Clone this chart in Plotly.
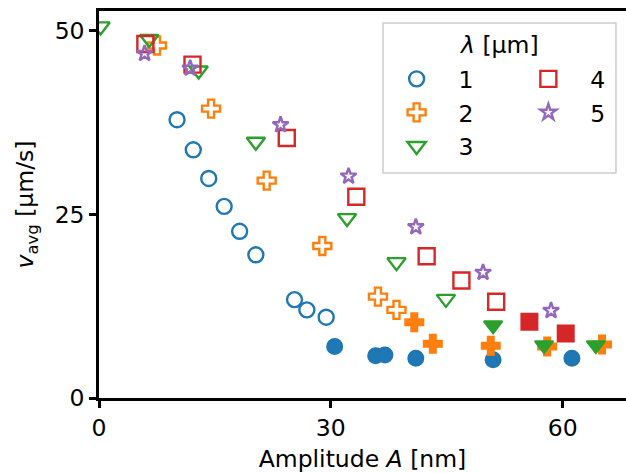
import plotly.graph_objects as go

# ---- data ----
# lambda = 1 um (blue circles)
l1_open_x = [10.1, 12.2, 14.2, 16.2, 18.2, 20.3, 25.3, 26.9, 29.4]
l1_open_y = [37.9, 33.8, 29.9, 26.1, 22.7, 19.5, 13.4, 12.0, 11.0]
l1_fill_x = [30.5, 35.8, 37.0, 41.0, 51.0, 61.2]
l1_fill_y = [7.0, 5.75, 5.85, 5.4, 5.2, 5.4]

# lambda = 2 um (orange plus)
l2_open_x = [7.5, 14.5, 21.7, 28.9, 36.1, 38.5]
l2_open_y = [48.0, 39.4, 29.6, 20.7, 13.8, 12.0]
l2_fill_x = [40.8, 43.2, 50.7, 58.0, 65.1]
l2_fill_y = [10.3, 7.4, 7.1, 7.0, 7.3]

# lambda = 3 um (green down-triangles)
l3_open_x = [0.2, 6.5, 12.9, 20.3, 32.1, 38.5, 44.9]
l3_open_y = [50.6, 48.9, 44.6, 34.9, 24.5, 18.5, 13.5]
l3_fill_x = [51.0, 57.6, 64.3]
l3_fill_y = [9.9, 7.2, 7.2]

# lambda = 4 um (red squares)
l4_open_x = [6.0, 12.1, 24.3, 33.3, 42.4, 46.9, 51.4]
l4_open_y = [48.2, 45.4, 35.4, 27.4, 19.3, 16.0, 13.1]
l4_fill_x = [55.7, 60.4]
l4_fill_y = [10.4, 8.8]

# lambda = 5 um (purple stars)
l5_open_x = [5.9, 11.8, 23.5, 32.3, 41.0, 49.7, 58.5]
l5_open_y = [46.9, 44.9, 37.2, 30.2, 23.3, 17.1, 11.9]

x_ticks = [0, 30, 60]
y_ticks = [0, 25, 50]
x_title = "Amplitude <i>A</i> [nm]"
y_title = "<i>v</i><sub>avg</sub> [μm/s]"
legend_title = "<i>λ</i> [μm]"

FONT = "DejaVu Sans"
FS = 23.5

series = [
    # name, color, symbol, size, open xy, filled xy, legend id
    ("1", "#1f77b4", "circle", 15, (l1_open_x, l1_open_y), (l1_fill_x, l1_fill_y), "legend"),
    ("2", "#ff7f0e", "cross", 15, (l2_open_x, l2_open_y), (l2_fill_x, l2_fill_y), "legend"),
    ("3", "#2ca02c", "triangle-down", 16, (l3_open_x, l3_open_y), (l3_fill_x, l3_fill_y), "legend"),
    ("4", "#d62728", "square", 16, (l4_open_x, l4_open_y), (l4_fill_x, l4_fill_y), "legend2"),
    ("5", "#9467bd", "star", 12, (l5_open_x, l5_open_y), None, "legend2"),
]

fig = go.Figure()
for name, color, sym, size, opn, fil, leg in series:
    fig.add_trace(go.Scatter(
        x=opn[0], y=opn[1], mode="markers", name=name, legend=leg,
        marker=dict(symbol=sym + "-open", size=size, color=color,
                    line=dict(width=2.4, color=color)),
    ))
    if fil is not None:
        fig.add_trace(go.Scatter(
            x=fil[0], y=fil[1], mode="markers", name=name, showlegend=False,
            marker=dict(symbol=sym, size=size, color=color,
                        line=dict(width=2, color=color)),
        ))

axis_common = dict(
    showline=True, linecolor="black", linewidth=2.5,
    ticks="outside", ticklen=7, tickwidth=2.5, tickcolor="black",
    showgrid=False, zeroline=False, automargin=False,
    tickfont=dict(family=FONT, size=FS, color="black"),
)

leg_common = dict(
    orientation="v", xanchor="left", yanchor="top",
    bgcolor="rgba(0,0,0,0)", borderwidth=0, itemwidth=74,
    font=dict(family=FONT, size=FS, color="black"),
    tracegroupgap=0, traceorder="normal",
)

fig.update_layout(
    width=626, height=473,
    margin=dict(l=99, r=0, t=11, b=75),
    plot_bgcolor="white", paper_bgcolor="white",
    font=dict(family=FONT, size=FS, color="black"),
    xaxis=dict(range=[0, 68.2], tickvals=x_ticks, mirror=True,
               title=dict(text=x_title, font=dict(family=FONT, size=FS)),
               **axis_common),
    yaxis=dict(range=[0, 52.7], tickvals=y_ticks,
               title=dict(text=y_title, font=dict(family=FONT, size=FS)),
               **axis_common),
    legend=dict(x=0.523, y=0.881, **leg_common),
    legend2=dict(x=0.773, y=0.881, **leg_common),
    shapes=[dict(
        type="rect", xref="paper", yref="paper", layer="above",
        x0=0.5389, x1=0.981, y0=0.5814, y1=0.969,
        fillcolor="rgba(255,255,255,0.8)",
        line=dict(color="#cccccc", width=1.5),
    )],
    annotations=[dict(
        text=legend_title, xref="paper", yref="paper",
        x=0.759, y=0.912, xanchor="center", yanchor="middle",
        showarrow=False, font=dict(family=FONT, size=FS, color="black"),
    )],
)

fig.write_html(
    "out.html",
    config={"displayModeBar": False},
    post_script="document.body.style.margin='0';document.body.style.padding='0';",
)
